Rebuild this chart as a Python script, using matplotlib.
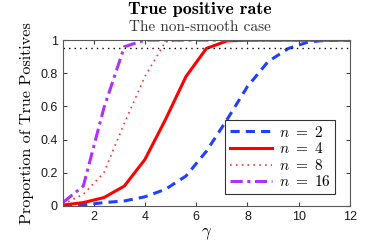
import numpy as np
import matplotlib
matplotlib.use('Agg')
import matplotlib.pyplot as plt

plt.rcParams['mathtext.fontset'] = 'cm'

# gamma values where the curves were sampled
gamma = [0.8, 1.6, 2.4, 3.2, 4.0, 4.8, 5.6, 6.4, 7.2, 8.0, 8.8, 9.6, 10.4, 11.2, 12.0]

tp_n2 = [0.0, 0.005, 0.02, 0.03, 0.055, 0.1, 0.18, 0.33, 0.52, 0.72, 0.87, 0.95, 0.99, 1.0, 1.0]
tp_n4 = [0.005, 0.02, 0.05, 0.12, 0.28, 0.52, 0.78, 0.95, 0.995, 1.0, 1.0, 1.0, 1.0, 1.0, 1.0]
tp_n8 = [0.01, 0.07, 0.2, 0.5, 0.78, 0.99, 1.0, 1.0, 1.0, 1.0, 1.0, 1.0, 1.0, 1.0, 1.0]
tp_n16 = [0.02, 0.12, 0.59, 0.96, 1.0, 1.0, 1.0, 1.0, 1.0, 1.0, 1.0, 1.0, 1.0, 1.0, 1.0]

target_level = 0.95

fig = plt.figure(figsize=(3.74, 2.46), dpi=100)
ax = fig.add_axes([0.168, 0.163, 0.768, 0.674])

ax.plot(gamma, tp_n2, color='#2040ff', lw=2.2, ls=(0, (3, 2)), label=r'$n\ =\ 2$')
ax.plot(gamma, tp_n4, color='#ff0000', lw=2.2, ls='-', label=r'$n\ =\ 4$')
ax.plot(gamma, tp_n8, color='#ff3030', lw=1.2, ls=(0, (1, 2.5)), label=r'$n\ =\ 8$')
ax.plot(gamma, tp_n16, color='#b030ff', lw=2.2, ls=(0, (4, 1.5, 1, 1.5)), label=r'$n\ =\ 16$')
ax.axhline(target_level, color='black', lw=1.0, ls=(0, (1, 3)))

ax.set_xlim(0.8, 12)
ax.set_ylim(0, 1)
ax.set_xticks([2, 4, 6, 8, 10, 12])
ax.set_yticks([0, 0.2, 0.4, 0.6, 0.8, 1])
ax.set_yticklabels(['0', '0.2', '0.4', '0.6', '0.8', '1'])
ax.tick_params(direction='in', top=True, right=True, length=3, labelsize=9,
               colors='0.25', labelcolor='0.1')
for lab in ax.get_xticklabels() + ax.get_yticklabels():
    lab.set_family('Liberation Sans')
for sp in ax.spines.values():
    sp.set_color('0.35')

ax.set_xlabel(r'$\gamma$', fontsize=12, labelpad=1)
ax.set_ylabel('Proportion of True Positives', family='cmr10', fontsize=11.6, labelpad=5)

leg = ax.legend(loc='lower right', fontsize=11, frameon=True, fancybox=False,
                edgecolor='black', handlelength=2.8, borderpad=0.3,
                labelspacing=0.1, handletextpad=0.4, borderaxespad=0,
                bbox_to_anchor=(0.948, 0.072))
leg.get_frame().set_linewidth(0.8)

fig.text(0.535, 0.96, 'True positive rate', family='cmb10', fontsize=13,
         ha='center', va='center')
fig.text(0.535, 0.89, 'The non-smooth case', family='cmr10', fontsize=11,
         ha='center', va='center', color='0.2')

fig.savefig('out.png', dpi=100)
